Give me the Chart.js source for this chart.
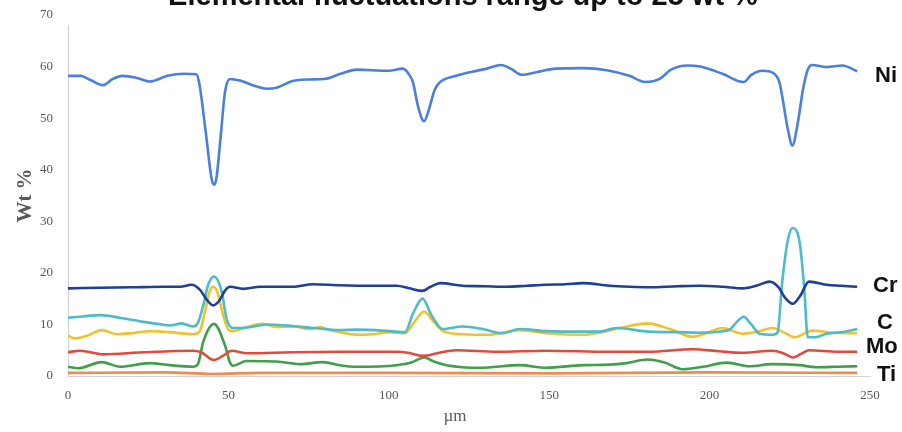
<!DOCTYPE html>
<html>
<head>
<meta charset="utf-8">
<script src="https://cdn.jsdelivr.net/npm/chart.js@4/dist/chart.umd.min.js"></script>
<style>
  html, body { margin: 0; padding: 0; background: #ffffff; }
  #wrap { width: 902px; height: 432px; position: relative; }
</style>
</head>
<body>
<div id="wrap"><canvas id="chart" width="902" height="432"></canvas></div>
<script>
// Line-scan composition along the traverse (distance in µm, content in wt %)
const niX = [0, 4, 7, 11, 14, 17, 21, 25.5, 31, 36, 40, 40.9, 42.9, 44.8, 45.6, 46.3, 47.6, 48.9, 50.5, 53.6, 58, 62, 65, 70, 75, 80, 85, 90, 100, 104.4, 106.5, 107.6, 109.1, 111, 112.8, 114.3, 116, 121, 126, 130.5, 135, 138, 141.4, 146, 152, 160.5, 168, 175, 180, 184.4, 188, 193, 197, 204, 210.6, 213, 216.5, 219.7, 221.8, 222.8, 224.4, 225.8, 227.5, 229.1, 230.6, 232, 236.4, 241.4, 246];
const niY = [58.2, 58.2, 57.4, 56.4, 57.6, 58.2, 57.9, 57.1, 58.2, 58.6, 58.5, 56.8, 47.5, 38.1, 37.1, 38.5, 46.5, 54.9, 57.6, 57.3, 56.3, 55.7, 55.9, 57.2, 57.5, 57.6, 58.6, 59.4, 59.2, 59.6, 58.3, 56.8, 52.3, 49.4, 52.3, 55.5, 57.0, 58.2, 59.0, 59.6, 60.3, 59.6, 58.4, 58.9, 59.6, 59.7, 59.3, 58.2, 57.0, 57.6, 59.4, 60.2, 60.0, 58.6, 57.0, 58.4, 59.2, 58.8, 56.9, 53.6, 47.8, 44.7, 49.1, 55.5, 59.4, 60.3, 59.9, 60.2, 59.1];

const crX = [0, 10, 20, 30, 35, 38.5, 41, 43.5, 45.2, 47, 49, 50.5, 54.6, 60, 70, 76.4, 84.7, 95, 102.4, 106.5, 110.5, 113, 116, 123, 130, 136.7, 143, 149, 155, 160.5, 168.8, 175, 181, 190, 197, 204, 210.3, 215, 218.7, 221.5, 223.5, 225.9, 228.2, 231, 236.4, 241, 246];
const crY = [17.0, 17.1, 17.2, 17.3, 17.3, 17.7, 16.8, 14.6, 13.7, 14.5, 16.6, 17.3, 16.9, 17.3, 17.3, 17.8, 17.6, 17.5, 17.5, 17.0, 16.5, 17.3, 18.0, 17.5, 17.4, 17.3, 17.5, 17.7, 17.8, 18.0, 17.5, 17.3, 17.2, 17.4, 17.5, 17.3, 17.0, 17.6, 18.3, 17.2, 15.2, 14.0, 15.5, 18.3, 17.7, 17.5, 17.3];

const feX = [0, 5, 10, 17, 23.4, 28, 31.8, 35.4, 39, 40.5, 42.2, 43.7, 45.5, 47.9, 49.4, 51.4, 56, 62, 70, 76.4, 84.7, 90, 100.3, 105, 107.6, 110.5, 113.3, 116.8, 123, 129.3, 135.5, 140.8, 149, 160.5, 165.7, 171, 181, 190, 197, 206, 208.5, 210.6, 213, 215.6, 219.6, 221.2, 222.6, 224.4, 225.9, 228.1, 229.5, 230.6, 233, 236.4, 241, 246];
const feY = [11.3, 11.6, 11.8, 11.2, 10.5, 10.1, 9.8, 10.2, 9.6, 10.3, 13.8, 17.7, 19.3, 16.4, 11.2, 9.3, 9.4, 10.0, 9.7, 9.3, 8.9, 9.0, 8.7, 8.5, 12.2, 15.0, 11.8, 9.1, 9.6, 9.1, 8.3, 9.1, 8.7, 8.6, 8.6, 9.3, 8.6, 8.5, 8.4, 8.9, 10.5, 11.5, 10.0, 8.2, 8.0, 8.5, 18.0, 26.4, 28.7, 25.8, 17.0, 7.5, 7.5, 8.2, 8.5, 9.1];

const cX = [0, 2.2, 6, 10.5, 15.2, 20, 25.5, 31.8, 39, 41, 42.7, 44.2, 45.3, 46.6, 48.5, 50, 51.4, 55.7, 60.8, 65, 70, 75.4, 78.5, 81.6, 84.7, 90, 95, 100.3, 105, 108, 111, 114, 117, 123, 131.5, 136, 140.8, 149, 160.5, 165.7, 172, 180.7, 188, 194.7, 199, 204, 210.3, 215, 219.6, 223, 226.5, 232, 238.5, 246];
const cY = [7.8, 7.3, 7.8, 8.9, 8.1, 8.3, 8.7, 8.5, 8.1, 8.6, 12.5, 16.5, 17.3, 16.2, 11.5, 9.0, 8.7, 9.5, 10.1, 9.5, 9.6, 9.1, 9.5, 8.9, 8.5, 8.0, 8.1, 8.5, 8.3, 10.5, 12.5, 10.5, 8.7, 8.1, 8.0, 8.5, 8.9, 8.3, 8.0, 8.4, 9.3, 10.2, 9.0, 7.6, 8.3, 9.3, 8.2, 8.6, 9.3, 8.5, 7.5, 8.8, 8.4, 8.3];

const moX = [0, 3.7, 11, 23.4, 39, 41.5, 45.5, 49, 51, 55.7, 70, 84.7, 102.4, 106, 110.5, 115, 121, 133.6, 149, 168.8, 181, 194.7, 203, 210.3, 219.6, 223, 225.9, 228.5, 231, 240, 246];
const moY = [4.6, 4.9, 4.2, 4.6, 4.9, 4.6, 3.1, 4.2, 4.9, 4.4, 4.6, 4.7, 4.7, 4.5, 3.9, 4.4, 5.0, 4.7, 4.9, 4.7, 4.7, 5.2, 4.8, 4.5, 4.9, 4.4, 3.6, 4.3, 5.0, 4.7, 4.7];

const nbX = [0, 3, 10.5, 16.2, 25.5, 31.8, 39, 40.5, 42.2, 45.5, 48.9, 50.5, 51.4, 55.7, 65, 72.3, 79.5, 84.7, 90, 102.4, 107, 111, 114, 118, 128.3, 140.8, 149, 160.5, 168.8, 174, 180.7, 186, 191.6, 198, 205.3, 212.5, 219.6, 228, 233.3, 240, 246];
const nbY = [1.8, 1.5, 2.7, 1.8, 2.5, 2.1, 1.8, 2.3, 6.7, 10.1, 6.0, 2.6, 2.0, 2.9, 2.8, 2.3, 2.7, 2.1, 1.8, 2.1, 2.6, 3.6, 2.8, 2.1, 1.6, 2.1, 1.6, 2.1, 2.2, 2.5, 3.2, 2.6, 1.3, 1.8, 2.6, 1.9, 2.3, 2.1, 1.7, 1.8, 1.9];

const tiX = [0, 30, 45, 60, 100, 150, 200, 246];
const tiY = [0.6, 0.7, 0.4, 0.6, 0.6, 0.5, 0.7, 0.6];

const xTicks = [0, 50, 100, 150, 200, 250];
const yTicks = [0, 10, 20, 30, 40, 50, 60, 70];

const chartTitle = 'Elemental fluctuations range up to 25 wt %';
const endLabels = [
  { text: 'Ni', x: 875, y: 76 },
  { text: 'Cr', x: 873, y: 286 },
  { text: 'C', x: 877, y: 323 },
  { text: 'Mo', x: 866, y: 347 },
  { text: 'Ti', x: 877, y: 375 }
];

function pts(xs, ys) { return xs.map((x, i) => ({ x: x, y: ys[i] })); }

function series(label, xs, ys, color) {
  return {
    label: label,
    data: pts(xs, ys),
    borderColor: color,
    backgroundColor: color,
    borderWidth: 2.6,
    pointRadius: 0,
    fill: false,
    cubicInterpolationMode: 'monotone'
  };
}

// Vertical axis line, stopping a little below the top tick
const axisLinePlugin = {
  id: 'axisLinePlugin',
  beforeDatasetsDraw(chart) {
    const y = chart.scales.y;
    const ctx = chart.ctx;
    ctx.save();
    ctx.strokeStyle = '#d0d0d0';
    ctx.lineWidth = 1;
    ctx.beginPath();
    ctx.moveTo(chart.chartArea.left + 0.5, y.getPixelForValue(0));
    ctx.lineTo(chart.chartArea.left + 0.5, y.getPixelForValue(68));
    ctx.stroke();
    ctx.restore();
  }
};

// Heading (clipped by the top edge), end-of-line element names and the axis unit
const textPlugin = {
  id: 'textPlugin',
  afterDraw(chart) {
    const ctx = chart.ctx;
    ctx.save();
    ctx.fillStyle = '#111111';
    ctx.font = 'bold 29px "Liberation Sans", Arial, sans-serif';
    ctx.textAlign = 'center';
    ctx.textBaseline = 'alphabetic';
    ctx.fillText(chartTitle, 463, 5);
    ctx.font = 'bold 22px "Liberation Sans", Arial, sans-serif';
    ctx.textAlign = 'left';
    ctx.textBaseline = 'middle';
    endLabels.forEach(l => ctx.fillText(l.text, l.x, l.y));
    ctx.fillStyle = '#595959';
    ctx.font = '17px "Liberation Serif", "Times New Roman", serif';
    ctx.textAlign = 'center';
    ctx.fillText('µm', 455, 417);
    ctx.restore();
  }
};

const tickFont = { family: '"Liberation Serif", "Times New Roman", serif', size: 13 };

new Chart(document.getElementById('chart'), {
  type: 'line',
  data: {
    datasets: [
      series('Ni', niX, niY, '#4a80dd'),
      series('Cr', crX, crY, '#1f3f99'),
      series('Fe', feX, feY, '#4bbcc8'),
      series('C', cX, cY, '#f2c12e'),
      series('Mo', moX, moY, '#e04b3f'),
      series('Nb', nbX, nbY, '#3f9f4a'),
      series('Ti', tiX, tiY, '#ee8c4f')
    ]
  },
  options: {
    responsive: false,
    animation: false,
    devicePixelRatio: 1,
    layout: { padding: { left: 0, right: 32, top: 15, bottom: 0 } },
    plugins: { legend: { display: false }, tooltip: { enabled: false } },
    scales: {
      x: {
        type: 'linear',
        min: 0,
        max: 250,
        afterFit(scale) { scale.height = 56; },
        afterBuildTicks(scale) { scale.ticks = xTicks.map(v => ({ value: v })); },
        grid: { display: false, drawTicks: false },
        border: { display: true, color: '#d0d0d0', width: 1 },
        ticks: { color: '#595959', font: tickFont, padding: 12, maxRotation: 0 },
        title: { display: false }
      },
      y: {
        min: 0,
        max: 70,
        afterFit(scale) {
          scale.width = 68;
          // the top label may sit on the canvas margin
          scale.paddingTop = 0;
        },
        afterBuildTicks(scale) { scale.ticks = yTicks.map(v => ({ value: v })); },
        grid: { display: false, drawTicks: false },
        border: { display: false },
        ticks: { color: '#595959', font: tickFont, padding: 15 },
        title: {
          display: true,
          text: 'Wt %',
          color: '#595959',
          font: { family: '"Liberation Serif", "Times New Roman", serif', size: 21, weight: 'bold' },
          padding: { top: 13, bottom: 0 }
        }
      }
    }
  },
  plugins: [axisLinePlugin, textPlugin]
});
</script>
</body>
</html>
